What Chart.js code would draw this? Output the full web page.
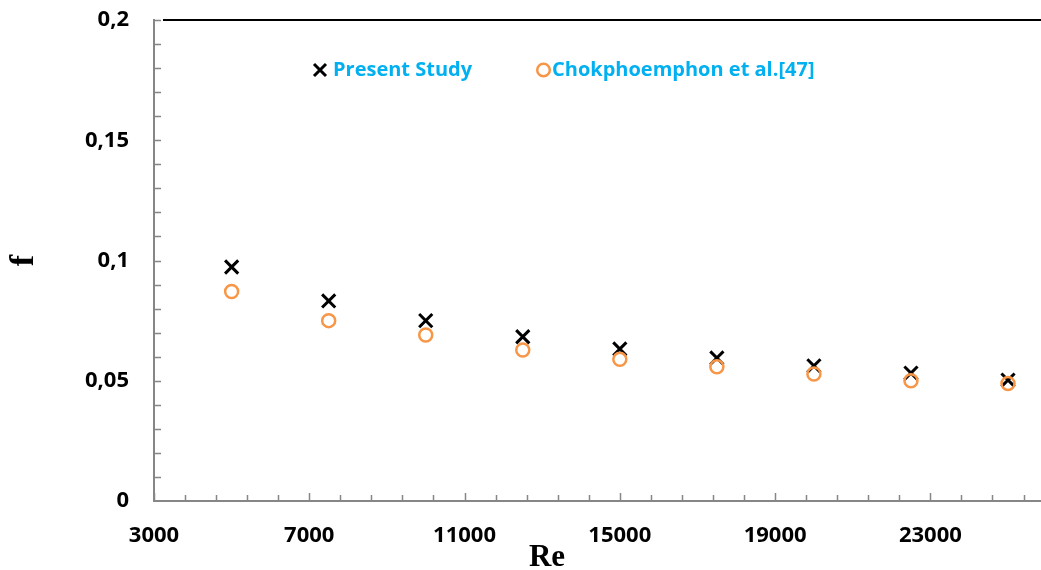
<!DOCTYPE html>
<html>
<head>
<meta charset="utf-8">
<script src="https://cdn.jsdelivr.net/npm/chart.js@4.4.0/dist/chart.umd.min.js"></script>
<style>
  body { margin: 0; background: #fff; }
  canvas { display: block; }
</style>
</head>
<body>
<canvas id="myChart" width="1041" height="570"></canvas>
<script>
// valeurs
const reynolds = [5000, 7500, 10000, 12500, 15000, 17500, 20000, 22500, 25000];
const fPresent = [0.0973, 0.0832, 0.0750, 0.0683, 0.0632, 0.0595, 0.0562, 0.0532, 0.0503];
const fChokphoemphon = [0.0871, 0.0750, 0.0690, 0.0628, 0.0589, 0.0558, 0.0528, 0.0500, 0.0489];

const xTicks = [3000, 7000, 11000, 15000, 19000, 23000];
const yTicks = [0, 0.05, 0.1, 0.15, 0.2];
const yTickLabels = ['0', '0,05', '0,1', '0,15', '0,2'];
const seriesLabels = ['Present Study', 'Chokphoemphon et al.[47]'];

const axisColor = '#868686';
const legendColor = '#00B0F0';
const orange = '#F79646';
const tickFont = { family: "'Open Sans', sans-serif", size: 22, weight: 'bold' };
const serif = "'Liberation Serif', 'Times New Roman', serif";

// petites graduations vers l'intérieur + bord haut + légende + titre Re
const decorPlugin = {
    id: 'decor',
    afterDraw(chart) {
        const ctx = chart.ctx;
        const xs = chart.scales.x;
        const ys = chart.scales.y;
        const area = chart.chartArea;
        ctx.save();
        ctx.strokeStyle = axisColor;
        ctx.lineWidth = 1.5;
        for (let v = xs.min; v <= xs.max; v += 800) {
            const px = Math.round(xs.getPixelForValue(v)) + 0.5;
            const major = (v - 3000) % 4000 === 0;
            ctx.beginPath();
            ctx.moveTo(px, area.bottom);
            ctx.lineTo(px, area.bottom - (major ? 8 : 6));
            ctx.stroke();
        }
        for (let i = 1; i <= 20; i++) {
            const py = Math.round(ys.getPixelForValue(i * 0.01)) + 0.5;
            ctx.beginPath();
            ctx.moveTo(area.left, py);
            ctx.lineTo(area.left + 7, py);
            ctx.stroke();
        }
        // bord haut noir
        ctx.strokeStyle = '#000';
        ctx.lineWidth = 2;
        ctx.beginPath();
        ctx.moveTo(area.left + 9, area.top);
        ctx.lineTo(area.right, area.top);
        ctx.stroke();

        // légende à l'intérieur
        ctx.lineWidth = 3;
        ctx.beginPath();
        ctx.moveTo(314, 64); ctx.lineTo(326, 76);
        ctx.moveTo(326, 64); ctx.lineTo(314, 76);
        ctx.stroke();
        ctx.strokeStyle = orange;
        ctx.lineWidth = 2.5;
        ctx.beginPath();
        ctx.arc(543.5, 70, 6.3, 0, Math.PI * 2);
        ctx.stroke();
        ctx.fillStyle = legendColor;
        ctx.font = "bold 20px 'Open Sans', sans-serif";
        ctx.textBaseline = 'middle';
        ctx.textAlign = 'left';
        ctx.fillText(seriesLabels[0], 333, 70);
        ctx.fillText(seriesLabels[1], 552, 70);

        // titre de l'axe x
        ctx.fillStyle = '#000';
        ctx.font = 'bold 31px ' + serif;
        ctx.textAlign = 'center';
        ctx.textBaseline = 'alphabetic';
        ctx.fillText('Re', 547, 566);
        ctx.restore();
    }
};

const ctx = document.getElementById('myChart').getContext('2d');
const myChart = new Chart(ctx, {
    type: 'scatter',
    data: {
        datasets: [{
            label: seriesLabels[1],
            data: reynolds.map((r, i) => ({ x: r, y: fChokphoemphon[i] })),
            pointStyle: 'circle',
            pointRadius: 6.5,
            pointBorderWidth: 2.5,
            borderColor: orange,
            backgroundColor: 'rgba(0,0,0,0)',
            order: 0
        }, {
            label: seriesLabels[0],
            data: reynolds.map((r, i) => ({ x: r, y: fPresent[i] })),
            pointStyle: 'crossRot',
            pointRadius: 9.3,
            pointBorderWidth: 3,
            borderColor: '#000',
            backgroundColor: '#000',
            order: 1
        }]
    },
    options: {
        responsive: false,
        animation: false,
        layout: { autoPadding: false, padding: { top: 20, right: 0, left: 0, bottom: 0 } },
        plugins: {
            legend: { display: false },
            tooltip: { enabled: false }
        },
        scales: {
            x: {
                type: 'linear',
                min: 3000,
                max: 25850,
                afterBuildTicks(scale) { scale.ticks = xTicks.map(v => ({ value: v })); },
                afterFit(scale) {
                    scale.height = 69;
                    scale.paddingLeft = 0;
                    scale.paddingRight = 0;
                },
                grid: { display: false, drawTicks: false },
                border: { display: true, color: axisColor, width: 2 },
                ticks: {
                    autoSkip: false,
                    maxRotation: 0,
                    padding: 22,
                    color: '#000',
                    font: tickFont,
                    callback: v => String(v)
                }
            },
            y: {
                type: 'linear',
                min: 0,
                max: 0.2,
                afterBuildTicks(scale) { scale.ticks = yTicks.map(v => ({ value: v })); },
                afterFit(scale) {
                    scale.width = 154;
                    scale.paddingTop = 0;
                    scale.paddingBottom = 0;
                },
                grid: { display: false, drawTicks: false },
                border: { display: true, color: axisColor, width: 2 },
                title: {
                    display: true,
                    text: 'f',
                    color: '#000',
                    padding: { top: 4, bottom: 0 },
                    font: { family: serif, size: 34, weight: 'bold' }
                },
                ticks: {
                    padding: 25,
                    color: '#000',
                    font: tickFont,
                    callback: (v, i) => yTickLabels[i]
                }
            }
        }
    },
    plugins: [decorPlugin]
});
</script>
</body>
</html>
